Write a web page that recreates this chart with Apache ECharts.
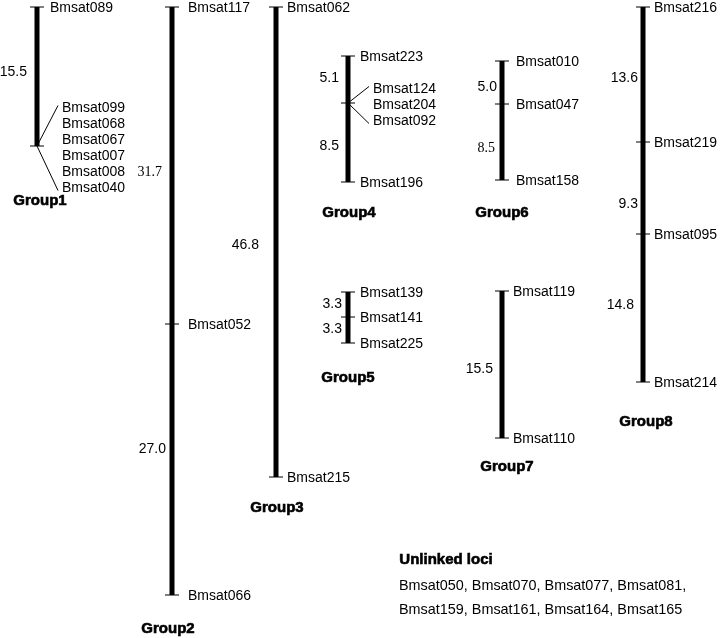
<!DOCTYPE html>
<html><head><meta charset="utf-8">
<script src="https://cdn.jsdelivr.net/npm/echarts@6/dist/echarts.min.js"></script>
<style>html,body{margin:0;padding:0;background:#fff}#c{width:720px;height:638px}</style>
</head><body><div id="c"></div>
<script>
// ---------- DATA ----------
const groupNames = ['Group1','Group2','Group3','Group4','Group5','Group6','Group7','Group8'];

const g1Markers = ['Bmsat089','Bmsat099','Bmsat068','Bmsat067','Bmsat007','Bmsat008','Bmsat040'];
const g1Pos = [0, 13.9, 13.9, 13.9, 13.9, 13.9, 13.9];
const g1Intervals = ['15.5'];

const g2Markers = ['Bmsat117','Bmsat052','Bmsat066'];
const g2Pos = [0, 31.7, 58.8];
const g2Intervals = ['31.7','27.0'];

const g3Markers = ['Bmsat062','Bmsat215'];
const g3Pos = [0, 47.0];
const g3Intervals = ['46.8'];

const g4Markers = ['Bmsat223','Bmsat124','Bmsat204','Bmsat092','Bmsat196'];
const g4Pos = [4.9, 9.6, 9.6, 9.6, 17.5];
const g4Intervals = ['5.1','8.5'];

const g5Markers = ['Bmsat139','Bmsat141','Bmsat225'];
const g5Pos = [28.5, 31.0, 33.6];
const g5Intervals = ['3.3','3.3'];

const g6Markers = ['Bmsat010','Bmsat047','Bmsat158'];
const g6Pos = [5.4, 9.7, 17.3];
const g6Intervals = ['5.0','8.5'];

const g7Markers = ['Bmsat119','Bmsat110'];
const g7Pos = [28.4, 43.1];
const g7Intervals = ['15.5'];

const g8Markers = ['Bmsat216','Bmsat219','Bmsat095','Bmsat214'];
const g8Pos = [0, 13.5, 22.7, 37.5];
const g8Intervals = ['13.6','9.3','14.8'];

const unlinkedTitle = 'Unlinked loci';
const unlinkedLoci = ['Bmsat050','Bmsat070','Bmsat077','Bmsat081','Bmsat159','Bmsat161','Bmsat164','Bmsat165'];

// ---------- BUILD ----------
const groups = [
  {markers:g1Markers,pos:g1Pos,intervals:g1Intervals},
  {markers:g2Markers,pos:g2Pos,intervals:g2Intervals},
  {markers:g3Markers,pos:g3Pos,intervals:g3Intervals},
  {markers:g4Markers,pos:g4Pos,intervals:g4Intervals},
  {markers:g5Markers,pos:g5Pos,intervals:g5Intervals},
  {markers:g6Markers,pos:g6Pos,intervals:g6Intervals},
  {markers:g7Markers,pos:g7Pos,intervals:g7Intervals},
  {markers:g8Markers,pos:g8Pos,intervals:g8Intervals}
];

const SANS = '14px "Liberation Sans", Arial, sans-serif';
const SERIF = '14px "Liberation Serif", "Times New Roman", serif';
const BOLD = 'bold 15px "Liberation Sans", Arial, sans-serif';
const layout = [
  {x:37,  gap:13, dx:[-10],       dy:[-4],       f:[SANS],        tdx:3,   tdy:55},
  {x:172, gap:16, dx:[-10,-6],    dy:[7,-10],    f:[SERIF,SANS],  tdx:-4,  tdy:34},
  {x:276, gap:11, dx:[-17],       dy:[3],        f:[SANS],        tdx:1,   tdy:31},
  {x:348, gap:12, dx:[-9,-9],     dy:[-1,4],     f:[SANS,SANS],   tdx:1,   tdy:31},
  {x:348, gap:12, dx:[-6,-6],     dy:[0,-1],     f:[SANS,SANS],   tdx:0,   tdy:35},
  {x:502, gap:14, dx:[-5,-7],     dy:[5,6],      f:[SANS,SERIF],  tdx:0,   tdy:33},
  {x:502, gap:11, dx:[-9],        dy:[5],        f:[SANS],        tdx:5,   tdy:29},
  {x:643, gap:11, dx:[-5,-5,-9],  dy:[4,16,-3],  f:[SANS,SANS,SANS], tdx:3, tdy:40}
];

function renderItem(params, api) {
  const i = params.dataIndex;
  const g = groups[i], L = layout[i];
  const bx = api.coord([L.x, 0])[0];
  const py = p => api.coord([L.x, p])[1];
  const children = [];
  const clusters = [];
  g.pos.forEach((p, k) => {
    const last = clusters[clusters.length - 1];
    if (last && last.p === p) last.names.push(g.markers[k]);
    else clusters.push({p: p, names: [g.markers[k]]});
  });
  const yTop = py(clusters[0].p), yBot = py(clusters[clusters.length - 1].p);
  children.push({type:'line', shape:{x1:bx, y1:yTop, x2:bx, y2:yBot},
    style:{stroke:'#000', lineWidth:5}});
  clusters.forEach(c => {
    const y = py(c.p);
    children.push({type:'line', shape:{x1:bx-7, y1:y, x2:bx+7, y2:y},
      style:{stroke:'#000', lineWidth:1}});
    if (c.names.length === 1) {
      children.push({type:'text', style:{text:c.names[0], x:bx+L.gap, y:y+1.5,
        textAlign:'left', textVerticalAlign:'middle', font:SANS, fill:'#000'}});
    } else {
      const n = c.names.length, sp = 16, cy = y + 2.5;
      const ys = c.names.map((_, k) => cy + (k - (n - 1) / 2) * sp);
      c.names.forEach((nm, k) => {
        children.push({type:'text', style:{text:nm, x:bx+25, y:ys[k],
          textAlign:'left', textVerticalAlign:'middle', font:SANS, fill:'#000'}});
      });
      children.push({type:'line', shape:{x1:bx, y1:y, x2:bx+21, y2:ys[0]-3},
        style:{stroke:'#000', lineWidth:1}});
      children.push({type:'line', shape:{x1:bx, y1:y, x2:bx+21, y2:ys[n-1]+2},
        style:{stroke:'#000', lineWidth:1}});
    }
  });
  g.intervals.forEach((t, k) => {
    const ym = (py(clusters[k].p) + py(clusters[k+1].p)) / 2 + L.dy[k];
    children.push({type:'text', style:{text:t, x:bx+L.dx[k], y:ym,
      textAlign:'right', textVerticalAlign:'middle', font:L.f[k], fill:'#000'}});
  });
  children.push({type:'text', style:{text:groupNames[i], x:bx+L.tdx, y:yBot+L.tdy,
    textAlign:'center', textVerticalAlign:'middle', font:BOLD, fill:'#000',
    stroke:'#000', lineWidth:0.6}});
  return {type:'group', children: children};
}

const chart = echarts.init(document.getElementById('c'), null, {renderer:'canvas'});
chart.setOption({
  backgroundColor:'#ffffff',
  animation:false,
  grid:{left:0, right:0, top:7, bottom:0},
  xAxis:{type:'value', min:0, max:720, show:false},
  yAxis:{type:'value', min:0, max:63.1, inverse:true, show:false},
  series:[{
    type:'custom',
    renderItem: renderItem,
    encode:{x:0, y:1},
    clip:false,
    data: groupNames.map((_, i) => [layout[i].x, groups[i].pos[0]])
  }],
  graphic:[
    {type:'text', left:399, top:552, style:{text:unlinkedTitle, font:BOLD, fill:'#000',
      stroke:'#000', lineWidth:0.6}},
    {type:'text', left:399, top:579, style:{text:unlinkedLoci.slice(0,4).join(', ') + ',',
      font:'14.4px "Liberation Sans", Arial, sans-serif', fill:'#000'}},
    {type:'text', left:399, top:603, style:{text:unlinkedLoci.slice(4).join(', '),
      font:'14.4px "Liberation Sans", Arial, sans-serif', fill:'#000'}}
  ]
});
</script>
</body></html>
